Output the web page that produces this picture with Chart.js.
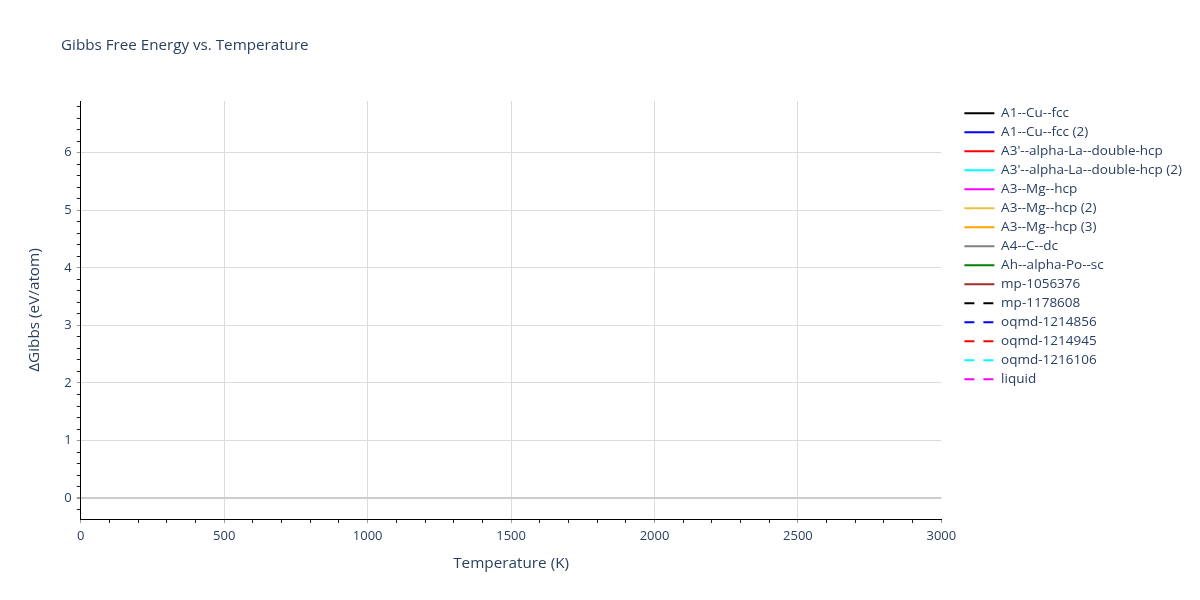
<!DOCTYPE html>
<html>
<head>
<meta charset="utf-8">
<title>Gibbs Free Energy vs. Temperature</title>
<script src="https://cdn.jsdelivr.net/npm/chart.js@4"></script>
<style>
  html, body { margin: 0; padding: 0; background: #fff; }
  #wrap { width: 1200px; height: 600px; }
</style>
</head>
<body>
<div id="wrap"><canvas id="gibbsChart" width="1200" height="600"></canvas></div>
<script>
// series shown in the legend (no curve is visible inside the plot area)
const seriesNames = [
  "A1--Cu--fcc",
  "A1--Cu--fcc (2)",
  "A3'--alpha-La--double-hcp",
  "A3'--alpha-La--double-hcp (2)",
  "A3--Mg--hcp",
  "A3--Mg--hcp (2)",
  "A3--Mg--hcp (3)",
  "A4--C--dc",
  "Ah--alpha-Po--sc",
  "mp-1056376",
  "mp-1178608",
  "oqmd-1214856",
  "oqmd-1214945",
  "oqmd-1216106",
  "liquid"
];
const seriesColors = [
  "#000000", "#0000ff", "#ff0000", "#00ffff", "#ff00ff",
  "#eac23c", "#ffa500", "#808080", "#008000", "#a52a2a",
  "#000000", "#0000ff", "#ff0000", "#00ffff", "#ff00ff"
];
const seriesDashed = [
  false, false, false, false, false,
  false, false, false, false, false,
  true, true, true, true, true
];
// temperature (K) / ΔGibbs (eV/atom) points per series: nothing is drawn in the reference
const seriesPoints = [
  [], [], [], [], [],
  [], [], [], [], [],
  [], [], [], [], []
];

// axes
const xRange = [0, 3000];
const yRange = [-0.364, 6.9];
const xTickLabels = [0, 500, 1000, 1500, 2000, 2500, 3000];
const yTickLabels = [0, 1, 2, 3, 4, 5, 6];
const xMinorStep = 100;
const yMinorStep = 0.2;

const fontFamily = '"Open Sans", verdana, arial, sans-serif';
const textColor = "#2a3f5f";
const gridColor = "#dcdcdc";
const zeroColor = "#cccccc";

const near = (v, list) => list.some(t => Math.abs(t - v) < 1e-6);

function minorTicks(min, max, step) {
  const out = [];
  const start = Math.ceil((min - 1e-9) / step);
  const end = Math.floor((max + 1e-9) / step);
  for (let i = start; i <= end; i++) out.push({ value: +(i * step).toFixed(6) });
  return out;
}

const titlePlugin = {
  id: "plotTitle",
  afterDraw(chart) {
    const ctx = chart.ctx;
    ctx.save();
    ctx.font = `15.2px ${fontFamily}`;
    ctx.fillStyle = textColor;
    ctx.textBaseline = "alphabetic";
    ctx.textAlign = "left";
    ctx.fillText("Gibbs Free Energy vs. Temperature", 61, 50);
    ctx.restore();
  }
};

const datasets = seriesNames.map((name, i) => ({
  label: name,
  data: seriesPoints[i],
  borderColor: seriesColors[i],
  backgroundColor: seriesColors[i],
  borderWidth: 2,
  borderDash: seriesDashed[i] ? [10, 9] : [],
  pointRadius: 0,
  pointStyle: "line",
  fill: false
}));

const ctx = document.getElementById("gibbsChart").getContext("2d");
const chart = new Chart(ctx, {
  type: "line",
  data: { datasets },
  plugins: [titlePlugin],
  options: {
    responsive: false,
    animation: false,
    devicePixelRatio: 1,
    layout: { padding: { left: 25, top: 101, right: 8, bottom: 27 } },
    plugins: {
      title: { display: false },
      tooltip: { enabled: false },
      legend: {
        display: true,
        position: "right",
        align: "start",
        maxWidth: 260,
        labels: {
          usePointStyle: true,
          pointStyleWidth: 30,
          boxHeight: 14,
          padding: 5.5,
          color: textColor,
          font: { family: fontFamily, size: 13.5 },
          generateLabels: c => c.data.datasets.map((ds, i) => ({
            text: ds.label,
            datasetIndex: i,
            fillStyle: ds.borderColor,
            strokeStyle: ds.borderColor,
            lineWidth: 2,
            lineDash: ds.borderDash,
            pointStyle: "line",
            fontColor: textColor,
            hidden: false
          }))
        }
      }
    },
    scales: {
      x: {
        type: "linear",
        min: xRange[0],
        max: xRange[1],
        afterBuildTicks: s => { s.ticks = minorTicks(xRange[0], xRange[1], xMinorStep); },
        ticks: {
          autoSkip: false,
          maxRotation: 0,
          padding: 5,
          color: textColor,
          font: { family: fontFamily, size: 13 },
          callback: v => near(v, xTickLabels) ? String(Math.round(v)) : ""
        },
        grid: {
          color: c => near(c.tick.value, xTickLabels) && c.tick.value > xRange[0] && c.tick.value < xRange[1] ? gridColor : "rgba(0,0,0,0)",
          tickColor: c => near(c.tick.value, xTickLabels) ? "#999999" : "#222222",
          tickLength: 4,
          lineWidth: 1
        },
        border: { display: true, color: "#000000", width: 1 },
        title: {
          display: true,
          text: "Temperature (K)",
          color: textColor,
          font: { family: fontFamily, size: 15.3 },
          padding: { top: 6, bottom: 0 }
        }
      },
      y: {
        type: "linear",
        min: yRange[0],
        max: yRange[1],
        afterBuildTicks: s => { s.ticks = minorTicks(yRange[0], yRange[1], yMinorStep); },
        ticks: {
          autoSkip: false,
          padding: 5,
          color: textColor,
          font: { family: fontFamily, size: 13 },
          callback: v => near(v, yTickLabels) ? String(Math.round(v)) : ""
        },
        grid: {
          color: c => {
            if (Math.abs(c.tick.value) < 1e-6) return zeroColor;
            return near(c.tick.value, yTickLabels) ? gridColor : "rgba(0,0,0,0)";
          },
          lineWidth: c => Math.abs(c.tick.value) < 1e-6 ? 2 : 1,
          tickColor: c => near(c.tick.value, yTickLabels) ? "#999999" : "#222222",
          tickLength: 4
        },
        border: { display: true, color: "#000000", width: 1 },
        title: {
          display: true,
          text: "ΔGibbs (eV/atom)",
          color: textColor,
          font: { family: fontFamily, size: 15.3 },
          padding: { top: 0, bottom: 16 }
        }
      },
      // empty spacer between the plot and the legend
      gap: {
        type: "linear",
        position: "right",
        display: true,
        grid: { display: false, drawTicks: false },
        border: { display: false },
        ticks: { display: false },
        afterFit: s => { s.width = 17.5; }
      }
    }
  }
});
</script>
</body>
</html>
